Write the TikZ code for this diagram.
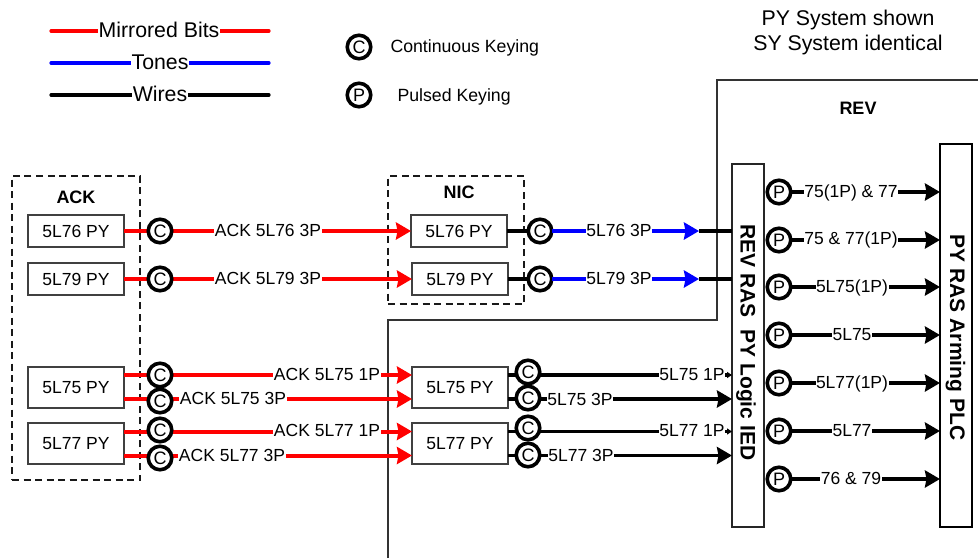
\documentclass[tikz,border=0pt]{standalone}
\usepackage{fontspec}
\setmainfont{Liberation Sans}
\usetikzlibrary{arrows.meta, shapes.geometric}
\tikzstyle{txt} = [inner sep=0.5pt, outer sep=0pt, fill=white, text height=12.6pt, text depth=0pt, font=\fontsize{17.5}{20}\selectfont]
\tikzstyle{legendtxt} = [txt, text height=15pt, font=\fontsize{21.3}{24}\selectfont]
\tikzstyle{keytxt} = [txt, anchor=west, font=\fontsize{17.7}{20}\selectfont]
\tikzstyle{headtxt} = [inner sep=0pt, text height=13pt, text depth=0pt, font=\fontsize{18}{20}\selectfont\bfseries]
\tikzstyle{sidetxt} = [rotate=-90, inner sep=0pt, text height=15pt, text depth=0pt, font=\fontsize{21}{24}\selectfont\bfseries]
\tikzstyle{relay} = [rectangle, draw=black!75, line width=1.1pt, fill=white, minimum width=96pt, minimum height=32pt, inner sep=0pt, outer sep=0pt, font=\fontsize{17.5}{20}\selectfont]
\tikzstyle{relaytall} = [relay, minimum height=41pt]
\tikzstyle{zone} = [rectangle, draw=black!90, line width=1.2pt, dash pattern=on 7pt off 4.5pt, inner sep=0pt, outer sep=0pt]
\tikzstyle{keying} = [circle, draw=black, line width=3.6pt, fill=white, minimum size=23.5pt, inner sep=0pt, outer sep=0pt, font=\fontsize{18}{20}\selectfont]
\tikzstyle{redwire} = [red, line width=4pt]
\tikzstyle{bluewire} = [blue, line width=4pt]
\tikzstyle{blackwire} = [black, line width=3.6pt]
\tikzstyle{bigtip} = [-{Stealth[length=15pt,width=17pt,inset=1.5pt]}]
\tikzstyle{smalltip} = [-{Triangle[length=5pt,width=6pt]}]
\tikzstyle{legendline} = [line width=3.2pt, line cap=round]
\begin{document}
\begin{tikzpicture}[x=1pt, y=-1pt]
\useasboundingbox (0,0) rectangle (978,558);

% legend
\coordinate (mbl) at (51,31);
\coordinate (mbr) at (269,31);
\coordinate (tol) at (51,63);
\coordinate (tor) at (269,63);
\coordinate (wil) at (51,95);
\coordinate (wir) at (269,95);
\draw[legendline, red] (mbl) -- (mbr);
\draw[legendline, blue] (tol) -- (tor);
\draw[legendline, black] (wil) -- (wir);
\node at (159,30) (mbtxt) [legendtxt] {Mirrored Bits};
\node at (160,62) (totxt) [legendtxt] {Tones};
\node at (160,94) (witxt) [legendtxt] {Wires};
\node at (359,47) (ckey) [keying] {C};
\node at (359,95) (pkey) [keying] {P};
\node at (390,46) (cktxt) [keytxt] {Continuous Keying};
\node at (397,95) (pktxt) [keytxt] {Pulsed Keying};
\node at (848,18) (note1) [legendtxt] {PY System shown};
\node at (848,43) (note2) [legendtxt] {SY System identical};

% REV boundary
\draw[black!80, line width=1.1pt] (388,558) -- (388,320) -- (717,320) -- (717,80) -- (978,80);
\node at (858,108) (revtxt) [headtxt] {REV};

% ACK
\node at (76,328) (ackzone) [zone, minimum width=128pt, minimum height=304pt] {};
\node at (76,197) (acktxt) [headtxt] {ACK};
\node at (76,231) (ack76) [relay] {5L76 PY};
\node at (76,279) (ack79) [relay] {5L79 PY};
\node at (76,387.5) (ack75) [relaytall] {5L75 PY};
\node at (76,443.5) (ack77) [relaytall] {5L77 PY};

% NIC
\node at (456,240) (niczone) [zone, minimum width=136pt, minimum height=128pt] {};
\node at (459,192) (nictxt) [headtxt] {NIC};
\node at (459,231) (nic76) [relay] {5L76 PY};
\node at (460,279) (nic79) [relay] {5L79 PY};
\node at (460,387.5) (nic75) [relaytall] {5L75 PY};
\node at (460,443.5) (nic77) [relaytall] {5L77 PY};

% REV
\node at (748,345.5) (ied) [rectangle, draw=black!85, line width=1.1pt, fill=white, minimum width=32pt, minimum height=363pt, outer sep=0pt] {};
\node at (956,335.5) (plc) [rectangle, draw=black, line width=2pt, fill=white, minimum width=32pt, minimum height=383pt, outer sep=0pt] {};
\node at (748,342.5) (iedtxt) [sidetxt] {REV RAS\ \ PY Logic IED};
\node at (957.5,337.5) (plctxt) [sidetxt] {PY RAS Arming PLC};

% mirrored bits
\draw[redwire, bigtip] (ack76) -- (nic76);
\draw[redwire, bigtip] (ack79) -- (nic79);
\draw[redwire, bigtip] ([yshift=12.5pt]ack75.east) -- ([yshift=12.5pt]nic75.west);
\draw[redwire, bigtip] ([yshift=-11.5pt]ack75.east) -- ([yshift=-11.5pt]nic75.west);
\draw[redwire, bigtip] ([yshift=12pt]ack77.east) -- ([yshift=12pt]nic77.west);
\draw[redwire, bigtip] ([yshift=-12pt]ack77.east) -- ([yshift=-12pt]nic77.west);

\node at (160,231) (c76a) [keying] {C};
\node at (160,279) (c79a) [keying] {C};
\node at (160,375) (c75a) [keying] {C};
\node at (160,401) (c75b) [keying] {C};
\node at (160,430) (c77a) [keying] {C};
\node at (160,458) (c77b) [keying] {C};

\node at (268,230) (l76a) [txt] {ACK 5L76 3P};
\node at (268,278) (l79a) [txt] {ACK 5L79 3P};
\node at (327,374) (l75a) [txt] {ACK 5L75 1P};
\node at (233,398) (l75b) [txt] {ACK 5L75 3P};
\node at (327,430) (l77a) [txt] {ACK 5L77 1P};
\node at (232,455) (l77b) [txt] {ACK 5L77 3P};

% tones
\node at (540,231) (c76c) [keying] {C};
\node at (540,279) (c79c) [keying] {C};
\coordinate (t76) at (699,231);
\coordinate (t79) at (699,279);
\draw[blackwire] (nic76) -- (c76c);
\draw[blackwire] (nic79) -- (c79c);
\draw[bluewire, bigtip] (c76c) -- (t76);
\draw[bluewire, bigtip] (c79c) -- (t79);
\draw[blackwire] (t76) -- (ied.west |- t76);
\draw[blackwire] (t79) -- (ied.west |- t79);
\node at (619,230) (l76c) [txt] {5L76 3P};
\node at (619,278) (l79c) [txt] {5L79 3P};

% wires to IED
\draw[blackwire, smalltip] ([yshift=12.5pt]nic75.east) -- (ied.west |- 0,375);
\draw[blackwire, bigtip] ([yshift=-11.5pt]nic75.east) -- (ied.west |- 0,399);
\draw[blackwire, smalltip] ([yshift=12pt]nic77.east) -- (ied.west |- 0,431.5);
\draw[blackwire, bigtip] ([yshift=-12pt]nic77.east) -- (ied.west |- 0,455.5);
\node at (528,372) (c75d) [keying] {C};
\node at (528,398) (c75e) [keying] {C};
\node at (528,428) (c77d) [keying] {C};
\node at (528,455) (c77e) [keying] {C};
\node at (692,374) (l75d) [txt] {5L75 1P};
\node at (580,399) (l75e) [txt] {5L75 3P};
\node at (692,430) (l77d) [txt] {5L77 1P};
\node at (581,455) (l77e) [txt] {5L77 3P};

% pulsed outputs
\node at (779,192) (p1) [keying] {P};
\node at (779,240) (p2) [keying] {P};
\node at (779,287) (p3) [keying] {P};
\node at (779,335) (p4) [keying] {P};
\node at (779,383) (p5) [keying] {P};
\node at (779,431) (p6) [keying] {P};
\node at (779,479) (p7) [keying] {P};
\draw[blackwire, bigtip] (p1) -- (plc.west |- p1);
\draw[blackwire, bigtip] (p2) -- (plc.west |- p2);
\draw[blackwire, bigtip] (p3) -- (plc.west |- p3);
\draw[blackwire, bigtip] (p4) -- (plc.west |- p4);
\draw[blackwire, bigtip] (p5) -- (plc.west |- p5);
\draw[blackwire, bigtip] (p6) -- (plc.west |- p6);
\draw[blackwire, bigtip] (p7) -- (plc.west |- p7);
\node at (851,191) (lp1) [txt] {75(1P) \& 77};
\node at (851,238) (lp2) [txt] {75 \& 77(1P)};
\node at (852,286) (lp3) [txt] {5L75(1P)};
\node at (852,334) (lp4) [txt] {5L75};
\node at (852,382) (lp5) [txt] {5L77(1P)};
\node at (852,430) (lp6) [txt] {5L77};
\node at (851,478) (lp7) [txt] {76 \& 79};

\end{tikzpicture}
\end{document}
